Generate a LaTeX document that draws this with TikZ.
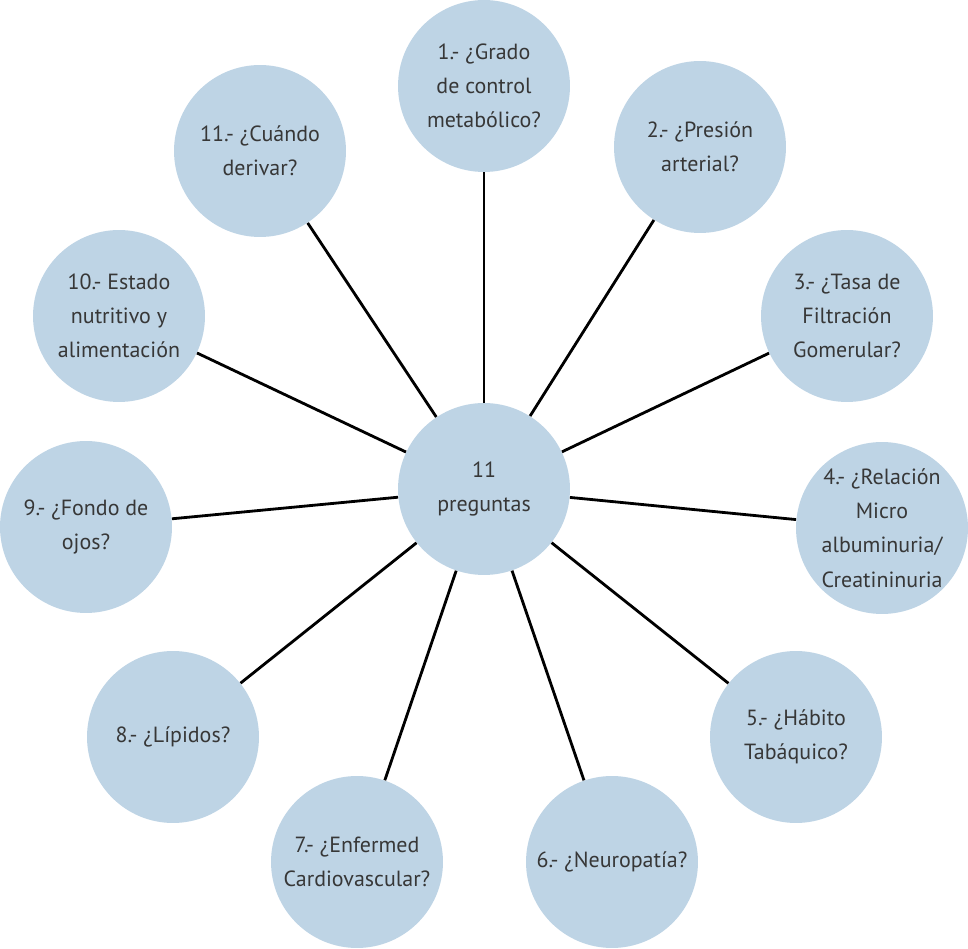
\documentclass[tikz,border=0pt]{standalone}
\usepackage{fontspec}
\setmainfont{PT Sans}
\definecolor{bub}{RGB}{190,212,229}
\definecolor{txt}{RGB}{55,55,55}
\begin{document}
\begin{tikzpicture}[x=0.02cm,y=-0.02cm,
  bubble/.style={circle,fill=bub,minimum size=3.44cm,inner sep=0pt,align=center,text=txt,font=\fontsize{12.5}{19.5}\selectfont},
  link/.style={line width=1.6pt,black}]
\useasboundingbox (0,0) rectangle (968,949);
\node[bubble] (c) at (484,489) {11\\preguntas};
\node[bubble] (n1) at (484,86) {1.- ¿Grado\\de control\\metabólico?};
\node[bubble] (n2) at (700,147) {2.- ¿Presión\\arterial?};
\node[bubble] (n3) at (847,316) {3.- ¿Tasa de\\Filtración\\Gomerular?};
\node[bubble] (n4) at (882,528) {4.- ¿Relación\\Micro\\albuminuria/\\Creatininuria};
\node[bubble] (n5) at (796,737) {5.- ¿Hábito\\Tabáquico?};
\node[bubble] (n6) at (612,862) {6.- ¿Neuropatía?};
\node[bubble] (n7) at (357,862) {7.- ¿Enfermed\\Cardiovascular?};
\node[bubble] (n8) at (173,737) {8.- ¿Lípidos?};
\node[bubble] (n9) at (86,527) {9.- ¿Fondo de\\ojos?};
\node[bubble] (n10) at (119,316) {10.- Estado\\nutritivo y\\alimentación};
\node[bubble] (n11) at (260,151) {11.- ¿Cuándo\\derivar?};
\foreach \i in {1,...,11} {\draw[link] (c) -- (n\i);}
\end{tikzpicture}
\end{document}
